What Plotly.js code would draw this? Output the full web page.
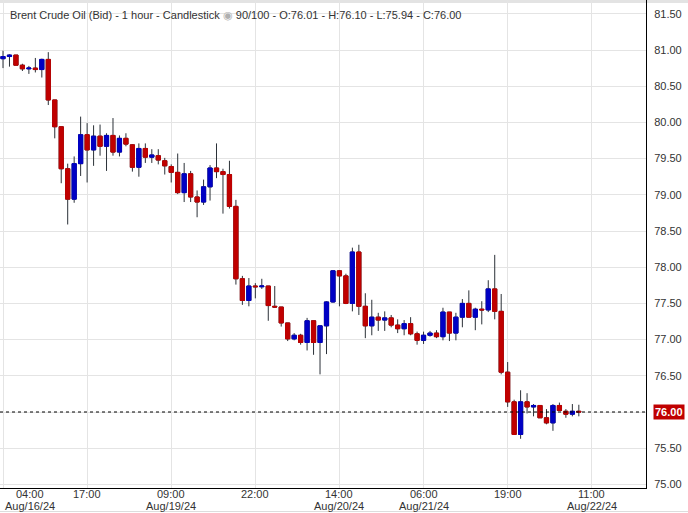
<!DOCTYPE html>
<html>
<head>
<meta charset="utf-8">
<script src="https://cdn.plot.ly/plotly-3.0.1.min.js"></script>
<style>
  html, body { margin: 0; padding: 0; background: #ffffff; }
  #chart { width: 688px; height: 513px; }
</style>
</head>
<body>
<div id="chart"></div>
<script>
// Candle index (hourly bars, trading hours only)
const candleIndex = [];
for (let i = 0; i < 90; i++) candleIndex.push(i);

const openPrices = [
  80.88, 80.91, 80.93, 80.79, 80.74, 80.75, 80.73, 80.87, 80.31, 79.94,
  79.36, 78.94, 79.43, 79.83, 79.62, 79.81, 79.67, 79.82, 79.59, 79.78,
  79.69, 79.38, 79.64, 79.52, 79.54, 79.47, 79.39, 79.31, 79.03, 79.29,
  78.97, 78.90, 79.11, 79.37, 79.32, 79.28, 78.84, 77.84, 77.54, 77.74,
  77.73, 77.74, 77.46, 77.45, 77.23, 77.01, 77.06, 76.96, 77.26, 76.96,
  77.19, 77.52, 77.95, 77.88, 77.50, 78.21, 77.46, 77.19, 77.31, 77.27,
  77.30, 77.20, 77.15, 77.22, 77.08, 76.99, 77.06, 77.09, 77.04, 77.38,
  77.09, 77.31, 77.50, 77.31, 77.42, 77.41, 77.70, 77.39, 76.55, 76.14,
  75.69, 76.14, 76.07, 76.09, 75.92, 75.85, 76.09, 76.01, 75.97, 76.01
];
const highPrices = [
  80.99, 80.94, 80.93, 80.81, 80.78, 80.89, 80.88, 80.97, 80.31, 79.94,
  79.43, 79.53, 80.08, 79.99, 79.96, 79.97, 79.85, 80.06, 79.82, 79.85,
  79.70, 79.71, 79.71, 79.63, 79.63, 79.51, 79.42, 79.57, 79.44, 79.33,
  79.06, 79.21, 79.41, 79.71, 79.36, 79.47, 78.93, 77.88, 77.85, 77.78,
  77.84, 77.74, 77.74, 77.45, 77.23, 77.09, 77.08, 77.30, 77.26, 77.19,
  77.53, 77.96, 77.96, 77.91, 78.27, 78.31, 77.64, 77.55, 77.37, 77.39,
  77.34, 77.28, 77.27, 77.31, 77.11, 77.11, 77.12, 77.13, 77.44, 77.38,
  77.37, 77.56, 77.68, 77.44, 77.53, 77.82, 78.17, 77.63, 76.69, 76.17,
  76.30, 76.26, 76.11, 76.09, 76.04, 76.11, 76.13, 76.04, 76.11, 76.10
];
const lowPrices = [
  80.75, 80.77, 80.79, 80.71, 80.67, 80.69, 80.62, 80.24, 79.78, 79.16,
  78.59, 78.89, 79.26, 79.17, 79.40, 79.54, 79.33, 79.54, 79.53, 79.67,
  79.32, 79.25, 79.44, 79.44, 79.42, 79.28, 79.17, 79.01, 78.90, 78.90,
  78.69, 78.86, 78.92, 79.23, 78.74, 78.81, 77.76, 77.48, 77.46, 77.57,
  77.70, 77.26, 77.44, 77.18, 76.98, 76.99, 76.93, 76.85, 76.79, 76.52,
  76.80, 77.51, 77.46, 77.49, 77.39, 77.34, 77.02, 77.06, 77.12, 77.12,
  77.17, 77.09, 77.06, 77.06, 76.93, 76.94, 77.04, 77.02, 76.99, 76.98,
  76.99, 77.17, 77.31, 77.13, 77.21, 77.38, 77.28, 76.52, 76.07, 75.69,
  75.63, 75.98, 75.94, 75.92, 75.83, 75.74, 76.02, 75.92, 75.94, 75.94
];
const closePrices = [
  80.91, 80.93, 80.79, 80.74, 80.75, 80.73, 80.87, 80.31, 79.94, 79.36,
  78.94, 79.43, 79.83, 79.62, 79.81, 79.67, 79.82, 79.59, 79.78, 79.70,
  79.38, 79.64, 79.52, 79.55, 79.48, 79.40, 79.31, 79.03, 79.29, 78.97,
  78.90, 79.11, 79.37, 79.32, 79.28, 78.84, 77.84, 77.54, 77.74, 77.73,
  77.74, 77.47, 77.45, 77.23, 77.01, 77.06, 76.96, 77.26, 76.96, 77.19,
  77.52, 77.95, 77.88, 77.50, 78.21, 77.46, 77.19, 77.31, 77.27, 77.30,
  77.20, 77.15, 77.22, 77.08, 76.99, 77.06, 77.09, 77.04, 77.38, 77.09,
  77.31, 77.50, 77.31, 77.42, 77.41, 77.70, 77.39, 76.55, 76.14, 75.69,
  76.14, 76.07, 76.09, 75.92, 75.85, 76.09, 76.02, 75.97, 76.01, 76.00
];

// X-axis tick positions (candle index) and labels
const timeTickIndex = [0, 13, 26, 39, 52, 65, 78, 91];
const timeTickLabels = ['04:00', '17:00', '09:00', '22:00', '14:00', '06:00', '19:00', '11:00'];
const dateTickLabels = ['Aug/16/24', '', 'Aug/19/24', '', 'Aug/20/24', 'Aug/21/24', '', 'Aug/22/24'];
// Y-axis ticks
const priceTicks = [75.00, 75.50, 76.00, 76.50, 77.00, 77.50, 78.00, 78.50, 79.00, 79.50, 80.00, 80.50, 81.00, 81.50];

const UP = '#0000c4';
const DOWN = '#c00000';
const WICK = '#2b3138';
const FONT = 'Liberation Sans, Arial, sans-serif';
const TXT = '#333333';

const bodyHigh = openPrices.map((o, i) => Math.max(o, closePrices[i]));
const bodyLow = openPrices.map((o, i) => Math.min(o, closePrices[i]));

const last = closePrices.length - 1;
const titleText = 'Brent Crude Oil (Bid) - 1 hour - Candlestick ' +
  '<span style="color:#b0b0b0">◉</span> ' + (last + 1) + '/100 - O:' + openPrices[last].toFixed(2) +
  ' - H:' + highPrices[last].toFixed(2) + ' - L:' + lowPrices[last].toFixed(2) +
  ' - C:' + closePrices[last].toFixed(2);

const wicks = {
  type: 'candlestick',
  x: candleIndex, open: openPrices, high: highPrices, low: lowPrices, close: closePrices,
  increasing: { line: { color: WICK, width: 1 }, fillcolor: WICK },
  decreasing: { line: { color: WICK, width: 1 }, fillcolor: WICK },
  whiskerwidth: 0, hoverinfo: 'skip', showlegend: false
};
const bodies = {
  type: 'candlestick',
  x: candleIndex, open: openPrices, high: bodyHigh, low: bodyLow, close: closePrices,
  increasing: { line: { color: UP, width: 1 }, fillcolor: UP },
  decreasing: { line: { color: DOWN, width: 1 }, fillcolor: DOWN },
  whiskerwidth: 0, hoverinfo: 'skip', showlegend: false
};

// x-axis labels drawn as annotations (time line + date line)
const xLabelAnns = [];
timeTickIndex.forEach((idx, k) => {
  const shift = k === 0 ? 27 : 0; // first label kept inside the chart
  xLabelAnns.push({ xref: 'x', x: idx, xanchor: 'center', xshift: shift, yref: 'paper', y: 0,
    yanchor: 'middle', yshift: -6, text: timeTickLabels[k], showarrow: false, borderpad: 0,
    font: { family: FONT, size: 11, color: TXT } });
  if (dateTickLabels[k]) {
    xLabelAnns.push({ xref: 'x', x: idx, xanchor: 'center', xshift: shift, yref: 'paper', y: 0,
      yanchor: 'middle', yshift: -18, text: dateTickLabels[k], showarrow: false, borderpad: 0,
      font: { family: FONT, size: 11, color: TXT } });
  }
});

const plotW = 646, plotH = 488;
const layout = {
  width: 688, height: 513,
  margin: { l: 0, r: 688 - plotW, t: 0, b: 513 - plotH, pad: 0 },
  paper_bgcolor: '#ffffff', plot_bgcolor: '#ffffff',
  font: { family: FONT, size: 11, color: TXT },
  showlegend: false,
  boxgap: 0.35, boxgroupgap: 0,
  title: {
    text: titleText,
    font: { family: FONT, size: 11, color: TXT },
    xref: 'paper', x: 10 / plotW, xanchor: 'left',
    yref: 'container', y: 1 - 15 / 513, yanchor: 'middle'
  },
  xaxis: {
    range: [-3 / 6.47, (plotW - 3) / 6.47],
    tickmode: 'array', tickvals: timeTickIndex, ticktext: timeTickIndex.map(() => ''),
    showgrid: true, gridcolor: '#e4e4e4', gridwidth: 1,
    zeroline: false, showline: true, linecolor: '#000000', linewidth: 1,
    ticks: '', showticklabels: false,
    rangeslider: { visible: false }, fixedrange: true
  },
  yaxis: {
    side: 'right',
    range: [81 - (plotH - 50) / 72.4, 81 + 50 / 72.4],
    tickmode: 'array', tickvals: priceTicks,
    ticktext: priceTicks.map(v => v.toFixed(2)),
    showgrid: true, gridcolor: '#e4e4e4', gridwidth: 1,
    zeroline: false, showline: true, linecolor: '#000000', linewidth: 1,
    ticks: '', ticklabelstandoff: 5,
    tickfont: { family: FONT, size: 11, color: TXT },
    fixedrange: true
  },
  shapes: [
    { type: 'line', xref: 'paper', x0: 0, x1: 1, yref: 'y', y0: closePrices[last], y1: closePrices[last],
      line: { color: '#000000', width: 1, dash: '3px,3px' }, layer: 'above' },
    { type: 'rect', xref: 'paper', x0: 0, x1: 688 / plotW, yref: 'paper', y0: 1 - 3 / plotH, y1: 1,
      fillcolor: '#e3e3e3', line: { width: 0 }, layer: 'below' },
    { type: 'line', xref: 'paper', x0: 0, x1: 688 / plotW, yref: 'paper', y0: -23.5 / plotH, y1: -23.5 / plotH,
      line: { color: '#dddddd', width: 1 } }
  ],
  annotations: [
    { xref: 'paper', x: 1, xanchor: 'left', xshift: 7, yref: 'y', y: closePrices[last], yanchor: 'middle',
      text: '<b>' + closePrices[last].toFixed(2) + '</b>', showarrow: false, bgcolor: DOWN, borderpad: 1,
      font: { family: FONT, size: 11, color: '#ffffff' } }
  ].concat(xLabelAnns)
};

Plotly.newPlot('chart', [wicks, bodies], layout, { displayModeBar: false, staticPlot: true });
</script>
</body>
</html>
